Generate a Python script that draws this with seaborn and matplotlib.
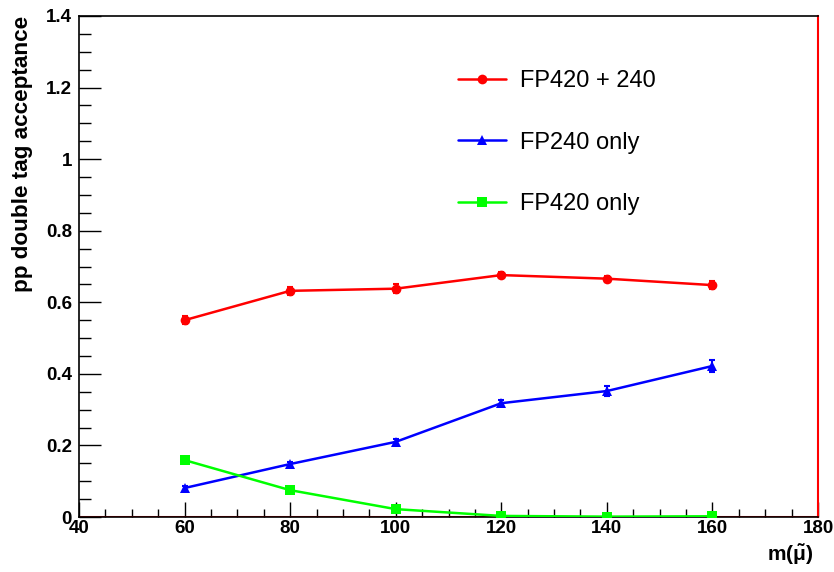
import numpy as np
import pandas as pd
import matplotlib
matplotlib.use("Agg")
import matplotlib.pyplot as plt
import seaborn as sns
from matplotlib.ticker import MultipleLocator

# Smuon mass points (GeV)
mass = [60, 80, 100, 120, 140, 160]

# Double-tag acceptance per detector configuration
acc_fp420_240 = [0.550, 0.632, 0.638, 0.676, 0.666, 0.648]
acc_fp240 = [0.081, 0.148, 0.210, 0.318, 0.352, 0.422]
acc_fp420 = [0.159, 0.075, 0.022, 0.003, 0.001, 0.002]

err_fp420_240 = [0.012, 0.012, 0.012, 0.008, 0.008, 0.012]
err_fp240 = [0.006, 0.006, 0.008, 0.008, 0.014, 0.016]
err_fp420 = [0.004, 0.004, 0.008, 0.002, 0.002, 0.002]

labels = ["FP420 + 240", "FP240 only", "FP420 only"]
colors = ["#ff0000", "#0000ff", "#00ff00"]
markers = ["o", "^", "s"]

frames = []
for lab, acc, err in zip(labels, [acc_fp420_240, acc_fp240, acc_fp420],
                         [err_fp420_240, err_fp240, err_fp420]):
    frames.append(pd.DataFrame({"mass": mass, "acc": acc, "err": err, "config": lab}))
df = pd.concat(frames, ignore_index=True)

sns.set_theme(style="white")
plt.rcParams["font.family"] = ["Liberation Sans", "DejaVu Sans"]
plt.rcParams["mathtext.default"] = "regular"
plt.rcParams["text.color"] = "black"
plt.rcParams["axes.labelcolor"] = "black"
plt.rcParams["xtick.color"] = "black"
plt.rcParams["ytick.color"] = "black"

fig = plt.figure(figsize=(8.34, 5.72), dpi=100)
ax = fig.add_axes([79 / 834, 55 / 572, 739 / 834, 501 / 572])

ax.axhline(0, color="#ff0000", lw=2.2, zorder=1)

sns.lineplot(data=df, x="mass", y="acc", hue="config", style="config",
             palette=dict(zip(labels, colors)), markers=dict(zip(labels, markers)),
             dashes=False, lw=1.8, markersize=7, markeredgewidth=0,
             ax=ax, zorder=3)

for lab, col in zip(labels, colors):
    sub = df[df["config"] == lab]
    ax.errorbar(sub["mass"], sub["acc"], yerr=sub["err"], fmt="none",
                ecolor=col, elinewidth=1.5, capsize=2.5, capthick=1.5, zorder=2)

ax.set_xlim(40, 180)
ax.set_ylim(0, 1.4)
ax.xaxis.set_major_locator(MultipleLocator(20))
ax.xaxis.set_minor_locator(MultipleLocator(5))
ax.yaxis.set_major_locator(MultipleLocator(0.2))
ax.yaxis.set_minor_locator(MultipleLocator(0.05))
ax.set_yticks(np.arange(0, 1.41, 0.2))
ax.set_yticklabels(["0", "0.2", "0.4", "0.6", "0.8", "1", "1.2", "1.4"])

ax.tick_params(axis="both", which="both", direction="in", color="black",
               labelcolor="black", labelsize=13.5, width=1,
               bottom=True, left=True, top=False, right=False)
ax.tick_params(axis="y", which="major", length=16, pad=5)
ax.tick_params(axis="y", which="minor", length=8.5)
ax.tick_params(axis="x", which="major", length=10.5, pad=2)
ax.tick_params(axis="x", which="minor", length=5.5)
for t in ax.get_xticklabels() + ax.get_yticklabels():
    t.set_fontweight("bold")

for side in ["left", "bottom", "top"]:
    ax.spines[side].set_color("black")
    ax.spines[side].set_linewidth(1.2)
ax.spines["right"].set_color("#ff0000")
ax.spines["right"].set_linewidth(1.5)

ax.set_ylabel("pp double tag acceptance", fontsize=16.2, fontweight="bold",
              loc="top", labelpad=9)
ax.set_xlabel(r"m($\tilde{\mu}$)", fontsize=15, fontweight="bold",
              loc="right", labelpad=4)
ax.xaxis.label.set_x(0.993)

leg = ax.legend(loc="upper left", bbox_to_anchor=(0.5005, 0.911), frameon=False,
                fontsize=17, labelspacing=1.68, handlelength=2.0,
                handletextpad=0.6, borderaxespad=0)
for h in leg.legend_handles:
    h.set_markersize(7)

fig.savefig("out.png", dpi=100, facecolor="white")
